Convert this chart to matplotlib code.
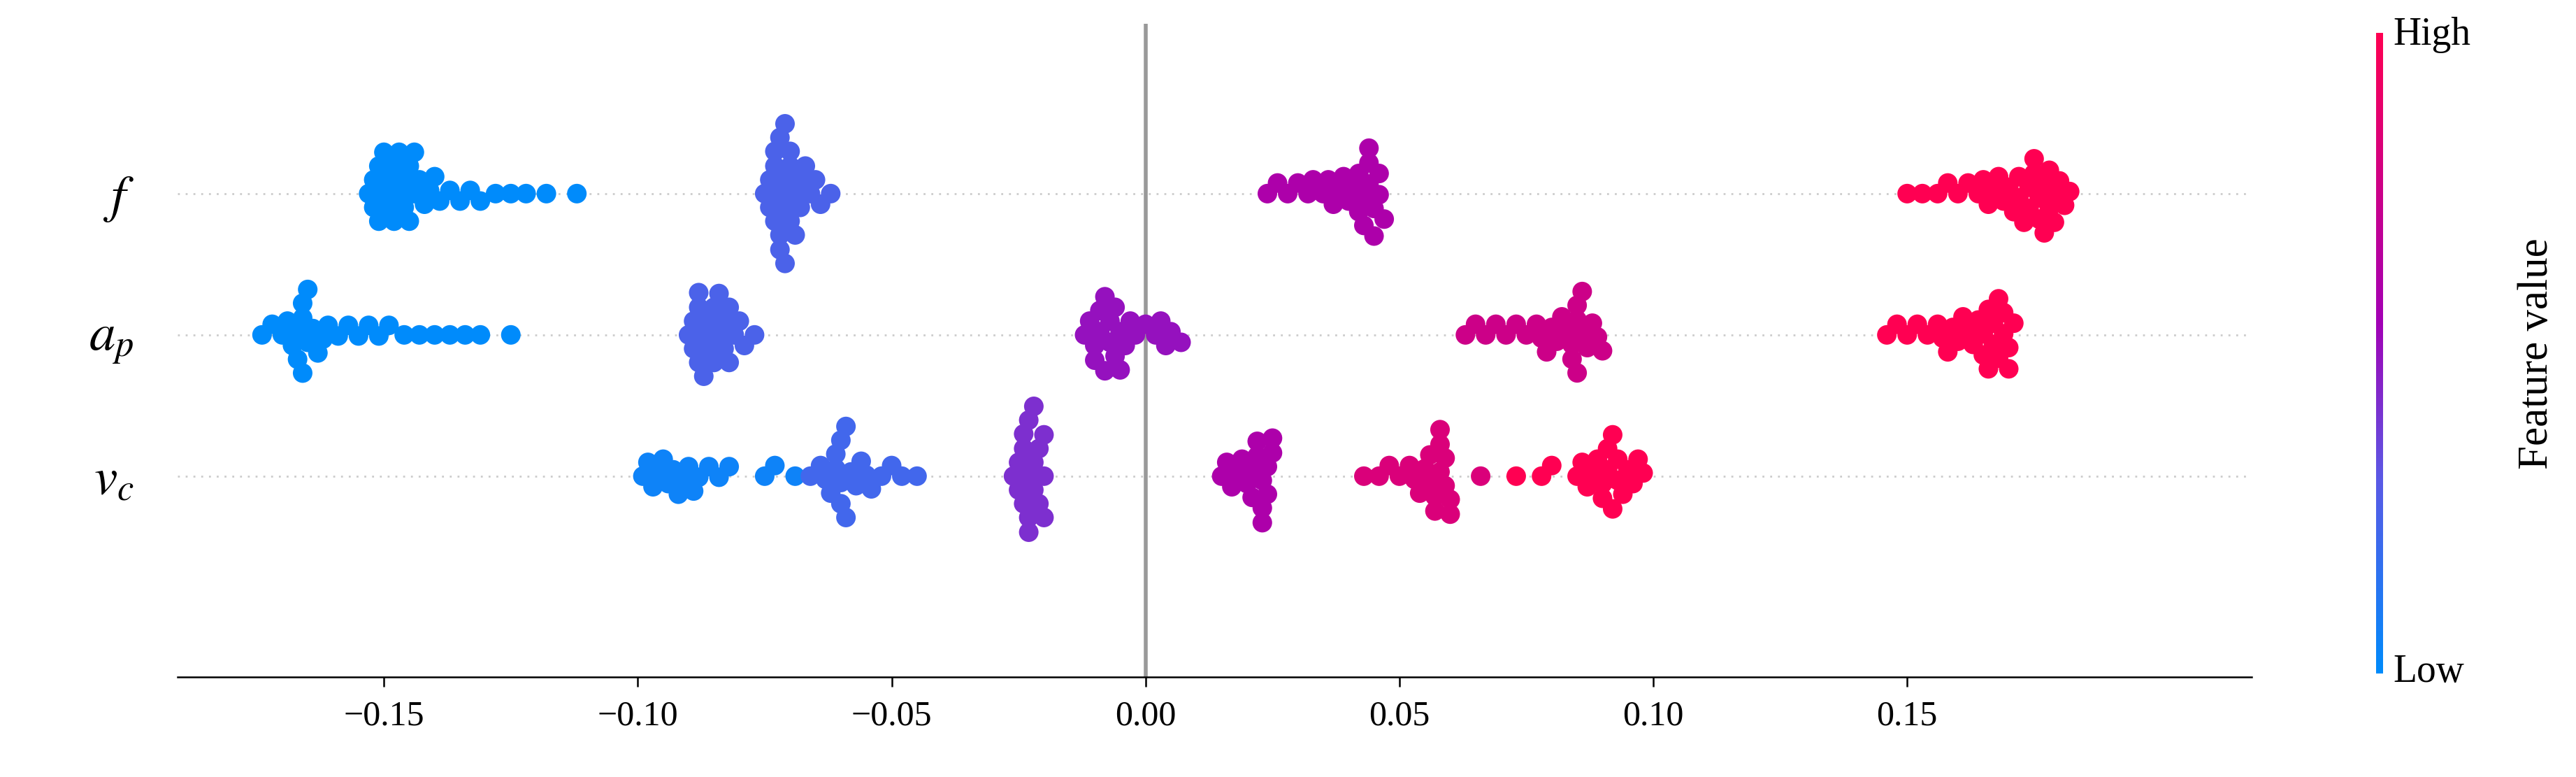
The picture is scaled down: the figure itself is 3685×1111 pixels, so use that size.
import numpy as np
import matplotlib
matplotlib.use("Agg")
import matplotlib.pyplot as plt
from matplotlib.colors import LinearSegmentedColormap

plt.rcParams.update({"font.family": ["Liberation Serif", "DejaVu Serif"],
                     "mathtext.fontset": "stix"})

features = ["$f$", "$a_p$", "$v_c$"]

# SHAP values per feature, one list per level of the feature value
f_levels = [0.0, 0.25, 0.6, 1.0]
f_shap = [
    [-0.153, -0.152, -0.152, -0.151, -0.151, -0.150, -0.150, -0.149, -0.149, -0.148, -0.148, -0.147,
     -0.147, -0.146, -0.146, -0.145, -0.145, -0.144, -0.144, -0.143, -0.142, -0.141, -0.140, -0.139,
     -0.137, -0.135, -0.133, -0.131, -0.128, -0.125, -0.122, -0.118, -0.112],
    [-0.075, -0.074, -0.074, -0.073, -0.073, -0.073, -0.072, -0.072, -0.072, -0.072, -0.071, -0.071,
     -0.071, -0.071, -0.070, -0.070, -0.070, -0.069, -0.069, -0.068, -0.068, -0.067, -0.066, -0.065,
     -0.064, -0.062],
    [0.024, 0.026, 0.028, 0.030, 0.032, 0.033, 0.035, 0.036, 0.037, 0.038, 0.039, 0.040, 0.041, 0.042,
     0.042, 0.043, 0.043, 0.044, 0.044, 0.044, 0.045, 0.045, 0.046, 0.046, 0.047],
    [0.150, 0.153, 0.156, 0.158, 0.160, 0.162, 0.164, 0.165, 0.166, 0.167, 0.168, 0.169, 0.170, 0.171,
     0.172, 0.172, 0.173, 0.174, 0.174, 0.175, 0.175, 0.176, 0.176, 0.177, 0.177, 0.178, 0.178, 0.179,
     0.179, 0.180, 0.181, 0.182],
]
ap_levels = [0.0, 0.25, 0.5, 0.75, 1.0]
ap_shap = [
    [-0.174, -0.172, -0.170, -0.169, -0.168, -0.167, -0.167, -0.166, -0.166, -0.166, -0.165, -0.165,
     -0.164, -0.163, -0.162, -0.161, -0.159, -0.157, -0.155, -0.153, -0.151, -0.149, -0.146, -0.143,
     -0.140, -0.137, -0.134, -0.131, -0.125],
    [-0.090, -0.089, -0.089, -0.088, -0.088, -0.088, -0.087, -0.087, -0.086, -0.086, -0.085, -0.085,
     -0.084, -0.084, -0.083, -0.083, -0.082, -0.082, -0.081, -0.080, -0.079, -0.077],
    [-0.012, -0.011, -0.010, -0.010, -0.009, -0.009, -0.008, -0.008, -0.007, -0.007, -0.006, -0.006,
     -0.005, -0.005, -0.004, -0.003, -0.002, 0.000, 0.002, 0.003, 0.004, 0.005, 0.007],
    [0.063, 0.065, 0.067, 0.069, 0.071, 0.073, 0.075, 0.077, 0.078, 0.079, 0.080, 0.081, 0.082, 0.083,
     0.084, 0.084, 0.085, 0.085, 0.085, 0.086, 0.086, 0.087, 0.088, 0.089, 0.090],
    [0.146, 0.148, 0.150, 0.152, 0.154, 0.156, 0.157, 0.158, 0.159, 0.160, 0.161, 0.162, 0.163, 0.164,
     0.165, 0.165, 0.166, 0.166, 0.167, 0.167, 0.168, 0.168, 0.169, 0.169, 0.170, 0.170, 0.171],
]
vc_levels = [0.05, 0.22, 0.42, 0.6, 0.82, 1.0]
vc_shap = [
    [-0.099, -0.098, -0.097, -0.096, -0.095, -0.094, -0.093, -0.092, -0.091, -0.090, -0.089, -0.088,
     -0.086, -0.084, -0.082, -0.075, -0.073, -0.069],
    [-0.066, -0.064, -0.063, -0.062, -0.061, -0.061, -0.060, -0.060, -0.060, -0.059, -0.059, -0.058,
     -0.057, -0.056, -0.055, -0.054, -0.052, -0.050, -0.048, -0.045],
    [-0.026, -0.025, -0.025, -0.024, -0.024, -0.024, -0.023, -0.023, -0.023, -0.023, -0.022, -0.022,
     -0.022, -0.021, -0.021, -0.020, -0.020, -0.020],
    [0.015, 0.016, 0.017, 0.018, 0.019, 0.020, 0.021, 0.021, 0.022, 0.022, 0.023, 0.023, 0.023, 0.024,
     0.024, 0.025, 0.025],
    [0.043, 0.046, 0.048, 0.050, 0.052, 0.053, 0.054, 0.055, 0.056, 0.056, 0.057, 0.057, 0.058, 0.058,
     0.058, 0.059, 0.059, 0.060, 0.060, 0.066],
    [0.073, 0.078, 0.080, 0.085, 0.086, 0.087, 0.088, 0.089, 0.090, 0.090, 0.091, 0.091, 0.092, 0.092,
     0.093, 0.093, 0.094, 0.095, 0.096, 0.097, 0.098],
]
rows = [(f_levels, f_shap), (ap_levels, ap_shap), (vc_levels, vc_shap)]
xticks = [-0.15, -0.10, -0.05, 0.00, 0.05, 0.10, 0.15]

cmap = LinearSegmentedColormap.from_list(
    "shap", [(0, "#008bfb"), (0.3, "#5a5ae6"), (0.55, "#a300b5"), (1, "#ff0052")])

fig = plt.figure(figsize=(36.85, 11.11), dpi=100)
ax = fig.add_axes([0.069, 0.129, 0.805, 0.84])
ax.set_xlim(-0.1906, 0.2178)
ax.set_ylim(-1.42, 3.2)

DIAM = 28.0  # marker diameter, px
GAP = 0.75 * DIAM  # packing distance (dots overlap like shap's beeswarm)
ms = (DIAM * 72 / 100) ** 2
fig.canvas.draw()
x0, y0 = ax.transData.transform((0, 0))
x1, y1 = ax.transData.transform((0.1, 1))
sx = (x1 - x0) / 0.1
sy = y1 - y0


def swarm(xs_px):
    order = np.argsort(xs_px)
    placed = []
    ys = np.zeros(len(xs_px))
    for i in order:
        x = xs_px[i]
        near = [(px, py) for px, py in placed if abs(px - x) < GAP]
        cands = [0.0]
        for px, py in near:
            h = np.sqrt(GAP ** 2 - (px - x) ** 2)
            cands += [py + h, py - h]
        cands.sort(key=abs)
        for c in cands:
            if all((px - x) ** 2 + (py - c) ** 2 >= GAP ** 2 - 1e-6 for px, py in near):
                ys[i] = c
                break
        placed.append((x, ys[i]))
    return ys


for r, (levels, groups) in enumerate(rows):
    ypos = 2 - r
    ax.axhline(ypos, color="#cccccc", lw=2, ls=(0, (1, 3)), zorder=0)
    xs = np.concatenate([np.array(g, float) for g in groups])
    cs = np.concatenate([[lv] * len(g) for lv, g in zip(levels, groups)])
    dy = swarm(xs * sx) / sy
    ax.scatter(xs, ypos + dy, c=cmap(cs), s=ms, linewidths=0, zorder=3)

ax.axvline(0, color="#999999", lw=4, zorder=1)
ax.set_yticks([2, 1, 0], features, fontsize=54)
ax.set_xticks(xticks, [f"{t:.2f}".replace("-", "\u2212") for t in xticks], fontsize=36)
ax.tick_params(axis="y", length=0, pad=45)
ax.tick_params(axis="x", length=10, width=1.8, pad=14)
for s in ["top", "right", "left"]:
    ax.spines[s].set_visible(False)
ax.spines["bottom"].set_linewidth(1.8)

cax = fig.add_axes([0.9225, 0.133, 0.0025, 0.825])
cax.imshow(np.linspace(1, 0, 256)[:, None], aspect="auto", cmap=cmap, extent=(0, 1, 0, 1))
cax.set_xticks([]); cax.set_yticks([])
for s in cax.spines.values():
    s.set_visible(False)
fig.text(0.929, 0.955, "High", fontsize=40, va="center", ha="left")
fig.text(0.929, 0.135, "Low", fontsize=40, va="center", ha="left")
fig.text(0.985, 0.545, "Feature value", fontsize=44, rotation=90, va="center", ha="center")

fig.savefig("out.png", dpi=100)
